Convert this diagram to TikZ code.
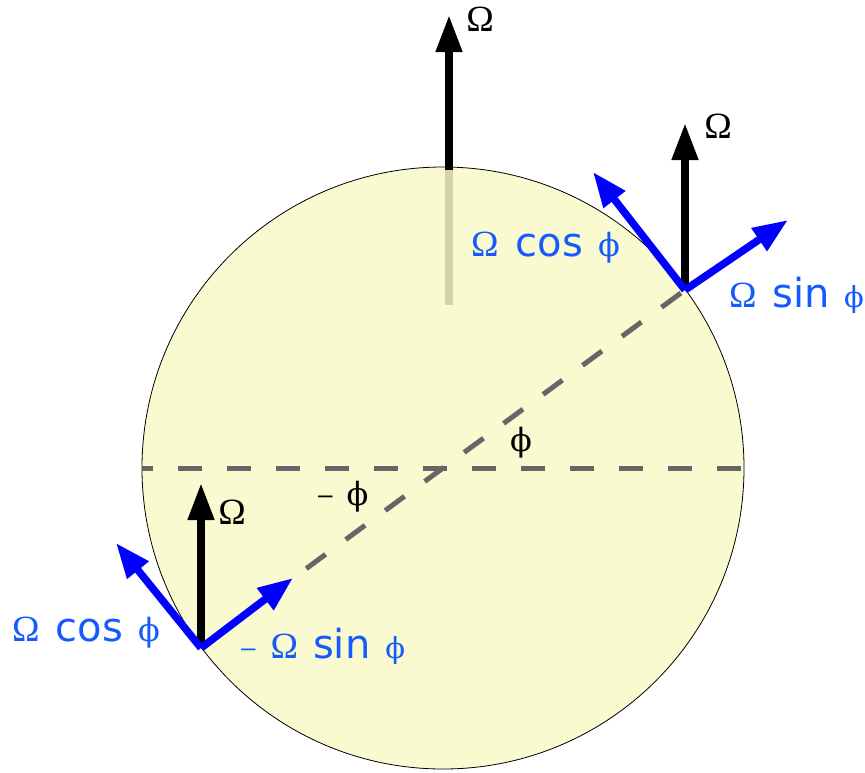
\documentclass[tikz,border=0pt]{standalone}
\usepackage{fontspec}
\newfontfamily\dv{DejaVu Sans}
\newfontfamily\lsans{Liberation Sans}
\newfontfamily\gkom{Liberation Serif}
\newfontfamily\gkphi{DejaVu Serif}
\usetikzlibrary{arrows.meta,calc}
\definecolor{fillc}{RGB}{250,250,208}
\definecolor{dashc}{RGB}{102,102,102}
\definecolor{shaftc}{RGB}{214,211,171}
\definecolor{txtblue}{RGB}{20,90,255}
\definecolor{arrblue}{RGB}{0,0,255}
\newcommand\myOm{{\gkom\fontsize{37}{38}\selectfont Ω}}
\newcommand\myPhi[1]{{\gkphi\fontsize{#1}{#1}\selectfont ϕ}}
\newcommand\myWord[1]{{\dv\fontsize{40}{41}\selectfont #1}}
\newcommand\myDash{\raisebox{2pt}{\lsans\fontsize{26}{27}\selectfont –}}
\tikzset{
  blk/.style={black, line width=7.5pt, -{Triangle[length=37pt,width=25pt]}},
  blu/.style={arrblue, line width=7.5pt, -{Triangle[length=35pt,width=26pt]}},
  dsh/.style={dashc, line width=5pt, dash pattern=on 24pt off 25pt},
  lbl/.style={inner sep=0pt, anchor=base west, text=txtblue},
  blab/.style={inner sep=0pt, text=black},
}
\begin{document}
\begin{tikzpicture}[x=1pt,y=-1pt]
\useasboundingbox (0,0) rectangle (865,772);
% points
\coordinate (C) at (443,468);
\coordinate (P) at (685,290);
\coordinate (Q) at (201,648);
\coordinate (E1) at (142,468);
\coordinate (E2) at (744,468);
\coordinate (Lo) at ($(C)!-0.565!(P)$);
\coordinate (T0) at (449,170);
\coordinate (T1) at (449,15);
\coordinate (S1) at (449,305);
\coordinate (PN) at (685,123);
\coordinate (PT) at (593,172);
\coordinate (PR) at (788,220);
\coordinate (QN) at (201,483);
\coordinate (QT) at (116,543);
\coordinate (QR) at (293,578);
% globe
\draw[fill=fillc, line width=0.8pt] (C) circle[radius=301pt];
% axis inside globe
\draw[shaftc, line width=7.5pt] (T0) -- (S1);
% equator and latitude line
\draw[dsh, dash phase=13pt] (E1) -- (E2);
\draw[dsh] (Lo) -- (P);
% rotation vectors
\draw[blk] (T0) -- (T1);
\draw[blk] (P) -- (PN);
\draw[blu] (P) -- (PT);
\draw[blu] (P) -- (PR);
\draw[blk] (Q) -- (QN);
\draw[blu] (Q) -- (QT);
\draw[blu] (Q) -- (QR);
% black labels
\node[blab] (lt) at (480,19) {\myOm};
\node[blab] (lr) at (718,126) {\myOm};
\node[blab] (lb) at (232,512) {\myOm};
\node[blab] (lphi) at (521,443) {\myPhi{32}};
\node[blab, anchor=base west] (lmphi) at (318,505) {\myDash\hspace{14pt}\myPhi{32}};
% blue labels
\node[lbl] (ct) at (471,256) {\myOm\hspace{17pt}\myWord{cos}\hspace{15pt}\myPhi{32}};
\node[lbl] (sr) at (729,307) {\myOm\hspace{16pt}\myWord{sin}\hspace{14pt}\myPhi{29}};
\node[lbl] (cb) at (12,641) {\myOm\hspace{16pt}\myWord{cos}\hspace{15pt}\myPhi{32}};
\node[lbl] (sb) at (241,658) {\myDash\hspace{15pt}\myOm\hspace{15pt}\myWord{sin}\hspace{15pt}\myPhi{29}};
\end{tikzpicture}
\end{document}
